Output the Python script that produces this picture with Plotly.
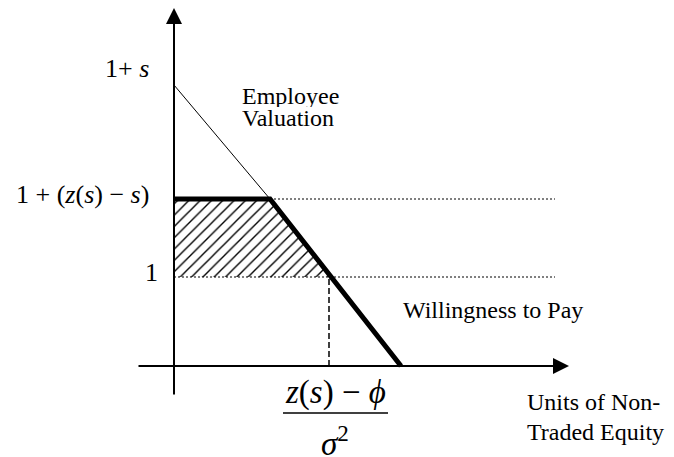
import plotly.graph_objs as go

# Diagram values, in chart units (origin where the two axes cross)
level_one = 8.9          # "1"
level_zs = 16.7          # "1 + (z(s) - s)"
level_s_label = 29.8     # where the "1+ s" label sits
valuation_x = [0, 9.6]
valuation_y = [28.1, 16.7]
wtp_x = [0, 9.6, 22.7]
wtp_y = [16.7, 16.7, 0]
x_star = 15.5
x_dotted_end = 38.1
hatch_x = [0, 9.6, x_star, 0]
hatch_y = [level_zs, level_zs, level_one, level_one]

# axis extents
x_axis_from, x_axis_to = -3.7, 39.5
y_axis_from, y_axis_to = -3.0, 35.8

tick_labels = ['1+ <i>s</i>', '1 + (<i>z</i>(<i>s</i>) \u2212 <i>s</i>)', '1']
tick_label_y = [level_s_label, 17.2, 9.4]
tick_label_x = [-2.3, -2.3, -1.4]

serif = 'Liberation Serif, Times New Roman, serif'

fig = go.Figure()

# shaded surplus area
fig.add_trace(go.Scatter(
    x=hatch_x, y=hatch_y, fill='toself', mode='lines', line=dict(width=0, color='black'),
    fillcolor='white',
    fillpattern=dict(shape='/', fgcolor='black', bgcolor='white', fgopacity=1,
                     size=8, solidity=0.17, fillmode='replace'),
    hoverinfo='skip'))

# dotted guide lines
fig.add_trace(go.Scatter(x=[wtp_x[1], x_dotted_end], y=[level_zs, level_zs], mode='lines',
                         line=dict(color='black', width=1, dash='2px,2px')))
fig.add_trace(go.Scatter(x=[0, x_dotted_end], y=[level_one, level_one], mode='lines',
                         line=dict(color='black', width=1, dash='2px,2px')))
# dashed drop line
fig.add_trace(go.Scatter(x=[x_star, x_star], y=[0, level_one], mode='lines',
                         line=dict(color='black', width=1.5, dash='6px,3px')))

# employee valuation (thin) and willingness to pay (thick)
fig.add_trace(go.Scatter(x=valuation_x, y=valuation_y, mode='lines',
                         line=dict(color='black', width=1)))
fig.add_trace(go.Scatter(x=wtp_x, y=wtp_y, mode='lines',
                         line=dict(color='black', width=5)))

# axes with arrow heads
fig.add_annotation(x=0, y=y_axis_to, ax=0, ay=y_axis_from, axref='x', ayref='y', text='',
                   showarrow=True, arrowhead=2, arrowwidth=2, arrowsize=1.6, arrowcolor='black', standoff=0)
fig.add_annotation(x=x_axis_to, y=0, ax=x_axis_from, ay=0, axref='x', ayref='y', text='',
                   showarrow=True, arrowhead=2, arrowwidth=2, arrowsize=1.6, arrowcolor='black', standoff=0)

# labels
for txt, ty, tx in zip(tick_labels, tick_label_y, tick_label_x):
    fig.add_annotation(x=tx, y=ty, text=txt, showarrow=False, xanchor='right', yanchor='middle',
                       font=dict(family=serif, size=26, color='black'))

text_font = dict(family=serif, size=24, color='black')
fig.add_annotation(x=6.6, y=27.0, text='Employee', showarrow=False, xanchor='left', height=22, font=text_font)
fig.add_annotation(x=6.6, y=24.8, text='Valuation', showarrow=False, xanchor='left', height=22, font=text_font)
fig.add_annotation(x=41.1, y=5.6, text='Willingness to Pay', showarrow=False, xanchor='right', font=text_font)
fig.add_annotation(x=35.1, y=-3.6, text='Units of Non-', showarrow=False, xanchor='left', font=text_font)
fig.add_annotation(x=35.1, y=-6.6, text='Traded Equity', showarrow=False, xanchor='left', font=text_font)

# x* label as a fraction
frac_x = 16.1
fig.add_annotation(x=frac_x, y=-2.6, text='<i>z</i>(<i>s</i>) \u2212 <i>\u03d5</i>', showarrow=False,
                   font=dict(family=serif, size=33, color='black'))
fig.add_shape(type='line', x0=10.9, x1=21.4, y0=-4.7, y1=-4.7, line=dict(color='black', width=1.5))
fig.add_annotation(x=frac_x, y=-7.5, text='<i>\u03c3</i><sup>2</sup>', showarrow=False, height=34,
                   font=dict(family=serif, size=33, color='black'))

# page body has an 8px margin, so the figure starts at (8, 8) in the window
fig.update_layout(
    width=666, height=449,
    margin=dict(l=0, r=0, t=0, b=0),
    paper_bgcolor='white', plot_bgcolor='white',
    showlegend=False,
    xaxis=dict(range=[-16.6, 50.0], visible=False, fixedrange=True),
    yaxis=dict(range=[-9.1, 35.8], visible=False, fixedrange=True),
)
fig.write_html("out.html")
